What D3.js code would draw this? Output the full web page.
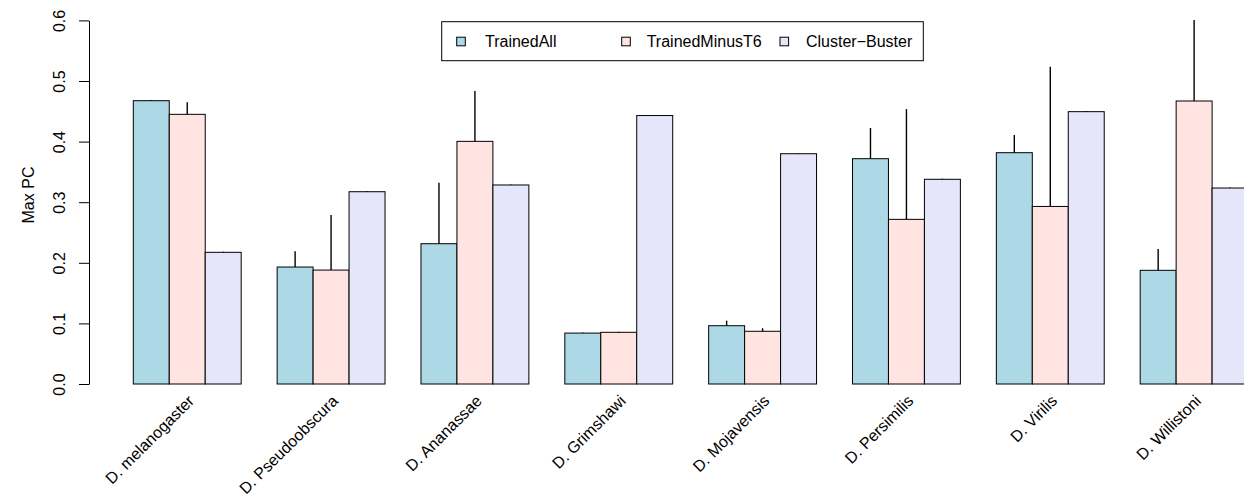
<!DOCTYPE html>
<html>
<head>
<meta charset="utf-8">
<script src="https://cdn.jsdelivr.net/npm/d3@7"></script>
<style>
  html, body { margin: 0; padding: 0; background: #fff; }
  svg { display: block; font-family: "Liberation Sans", Arial, Helvetica, sans-serif; }
</style>
</head>
<body>
<svg id="chart" width="1244" height="499"></svg>
<script>
// ---- data ----
const categories = ["D. melanogaster", "D. Pseudoobscura", "D. Ananassae", "D. Grimshawi",
                    "D. Mojavensis", "D. Persimilis", "D. Virilis", "D. Willistoni"];
const seriesNames = ["TrainedAll", "TrainedMinusT6", "Cluster\u2212Buster"];
const seriesColors = ["#ADD8E6", "#FFE4E1", "#E6E6FA"];
const trainedAll      = [0.4675, 0.193, 0.2315, 0.084, 0.0962, 0.3718, 0.3817, 0.1876];
const trainedAllErr   = [0.001, 0.026, 0.1005, 0.001, 0.0083, 0.0506, 0.0293, 0.0352];
const trainedMinusT6  = [0.445, 0.188, 0.4004, 0.0853, 0.087, 0.2717, 0.293, 0.467];
const trainedMinusErr = [0.020, 0.091, 0.083, 0.001, 0.005, 0.182, 0.2306, 0.1337];
const clusterBuster   = [0.2173, 0.3173, 0.3284, 0.443, 0.380, 0.3378, 0.4494, 0.3234];
const clusterErr      = [0.001, 0.001, 0.001, 0.001, 0.001, 0.001, 0.001, 0.001];
const yTicks = [0.0, 0.1, 0.2, 0.3, 0.4, 0.5, 0.6];
const yLabel = "Max PC";

const values = [trainedAll, trainedMinusT6, clusterBuster];
const errors = [trainedAllErr, trainedMinusErr, clusterErr];

// ---- layout ----
const svg = d3.select("#chart");
const font = 16;
// bar units: each bar width 1, one unit gap between groups (group = 4 units)
const x = d3.scaleLinear().domain([1, 33]).range([133.3, 133.3 + 32 * 35.96]);
const y = d3.scaleLinear().domain([0, 0.6]).range([384, 20.4]);

const bars = [];
categories.forEach((c, g) => {
  values.forEach((s, i) => {
    bars.push({ g, i, left: g * 4 + 1 + i, v: s[g], e: errors[i][g] });
  });
});

// bars
svg.append("g").selectAll("rect").data(bars).join("rect")
  .attr("x", d => x(d.left))
  .attr("y", d => y(d.v))
  .attr("width", d => x(d.left + 1) - x(d.left))
  .attr("height", d => y(0) - y(d.v))
  .attr("fill", d => seriesColors[d.i])
  .attr("stroke", "#000")
  .attr("stroke-width", 1);

// error bars
svg.append("g").selectAll("line").data(bars).join("line")
  .attr("x1", d => x(d.left + 0.5))
  .attr("x2", d => x(d.left + 0.5))
  .attr("y1", d => y(d.v))
  .attr("y2", d => y(d.v + d.e))
  .attr("stroke", "#000")
  .attr("stroke-width", 1.4);

// y axis
const axisX = 89;
const yAxis = svg.append("g")
  .attr("transform", `translate(${axisX},0)`)
  .call(d3.axisLeft(y).tickValues(yTicks).tickFormat(d3.format(".1f")).tickSize(10).tickSizeOuter(0));
yAxis.select(".domain").attr("stroke", "#000");
yAxis.selectAll(".tick line").attr("stroke", "#000");
yAxis.selectAll(".tick text")
  .attr("transform", "rotate(-90)")
  .attr("x", 0).attr("y", -29.5).attr("dy", null)
  .attr("text-anchor", "middle")
  .attr("dominant-baseline", "central")
  .attr("font-size", font)
  .attr("font-family", "Liberation Sans, Arial, sans-serif")
  .attr("fill", "#000");

// y label
svg.append("text")
  .attr("transform", `translate(28,195) rotate(-90)`)
  .attr("text-anchor", "middle")
  .attr("dominant-baseline", "central")
  .attr("font-size", font)
  .text(yLabel);

// x labels (rotated 45 degrees)
svg.append("g").selectAll("text").data(categories).join("text")
  .attr("transform", (d, g) => `translate(${x(g * 4 + 2.5) + 4},398) rotate(-45)`)
  .attr("text-anchor", "end")
  .attr("dominant-baseline", "central")
  .attr("font-size", font)
  .text(d => d);

// legend
const leg = svg.append("g");
leg.append("rect")
  .attr("x", 441.7).attr("y", 21.7).attr("width", 481.6).attr("height", 39)
  .attr("fill", "#fff").attr("stroke", "#000").attr("stroke-width", 1);
const legSquareX = [456.7, 621.7, 780];
const legTextX = [485, 646.7, 806];
const legY = 41.5;
const items = leg.selectAll("g.item").data(seriesNames).join("g").attr("class", "item");
items.append("rect")
  .attr("x", (d, i) => legSquareX[i]).attr("y", legY - 4.3)
  .attr("width", 8.6).attr("height", 8.6)
  .attr("fill", (d, i) => seriesColors[i])
  .attr("stroke", "#000").attr("stroke-width", 1);
items.append("text")
  .attr("x", (d, i) => legTextX[i]).attr("y", legY)
  .attr("dominant-baseline", "central")
  .attr("font-size", font)
  .text(d => d);
</script>
</body>
</html>
